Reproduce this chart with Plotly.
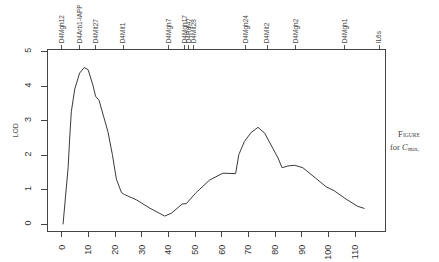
import plotly.graph_objects as go

# LOD profile (position in cM, LOD score)
pos_cm = [0.5, 1.5, 2.4, 3.0, 3.6, 4.9, 6.7, 8.4, 9.9, 11.7, 12.7, 14.0, 15.5, 17.3,
          19.0, 20.5, 22.4, 23.6, 28.0, 33.0, 38.6, 41.1, 45.2, 46.7, 50.4, 55.4,
          60.4, 65.2, 66.4, 68.5, 71.0, 73.6, 76.1, 79.2, 81.1, 82.6, 84.8, 87.3,
          90.4, 94.2, 99.1, 102.2, 106.6, 111.0, 113.5]
lod = [0.0, 0.9, 1.64, 2.5, 3.26, 3.92, 4.38, 4.54, 4.48, 4.03, 3.71, 3.59, 3.21, 2.69,
       2.02, 1.31, 0.92, 0.86, 0.71, 0.47, 0.24, 0.32, 0.59, 0.60, 0.92, 1.28,
       1.48, 1.47, 2.02, 2.40, 2.66, 2.81, 2.64, 2.21, 1.92, 1.64, 1.69, 1.71,
       1.64, 1.40, 1.09, 0.97, 0.73, 0.52, 0.46]

# marker map along the top
marker_names = ["D4Mgh12", "D4Arb1-IAPP", "D4Mit27", "D4Mit1", "D4Mgh7", "D4Mgh17",
                "D4Rul47", "D4Mit28", "D4Mgh24", "D4Mit2", "D4Mgh2", "D4Mgh1", "IL6s"]
marker_pos = [0.0, 6.7, 12.7, 23.0, 40.0, 46.0, 47.6, 49.4, 69.0, 77.0, 87.7, 106.0, 119.0]

x_ticks = list(range(0, 111, 10))
y_ticks = [0, 1, 2, 3, 4, 5]

W, H = 439, 262
L, R, T, B = 48, 385, 48, 231
x_rng = [-5.14, 121.2]
y_rng = [-0.2, 5.06]

fig = go.Figure()
fig.add_trace(go.Scatter(x=pos_cm, y=lod, mode="lines",
                         line=dict(color="#3a3a3a", width=1), showlegend=False,
                         hoverinfo="skip"))
# invisible trace to activate top axis
fig.add_trace(go.Scatter(x=[marker_pos[0]], y=[0], xaxis="x2", mode="markers",
                         marker=dict(opacity=0), showlegend=False, hoverinfo="skip"))

axis_font = dict(family="Liberation Sans, Arial, sans-serif", size=9, color="#333")
serif = "Liberation Serif, Times New Roman, serif"


def note(text, x, y, anchor, size, italic=False):
    return dict(text=text, x=x / W, y=1 - y / H, xref="paper", yref="paper",
                xanchor=anchor, yanchor="middle", showarrow=False,
                borderpad=0, borderwidth=0,
                font=dict(family=serif, size=size, color="#444"))


fig.update_layout(
    width=W, height=H,
    margin=dict(l=0, r=0, t=0, b=0),
    paper_bgcolor="white", plot_bgcolor="white",
    xaxis=dict(domain=[L / W, R / W], range=x_rng, tickvals=x_ticks,
               ticktext=[str(v) for v in x_ticks], tickangle=-90,
               ticks="outside", ticklen=5, tickcolor="#444", tickwidth=1,
               showline=True, linecolor="#444", linewidth=1, mirror=False,
               showgrid=False, zeroline=False, tickfont=axis_font, ticklabelstandoff=4),
    xaxis2=dict(overlaying="x", side="top", anchor="y", range=x_rng,
                tickvals=marker_pos, ticktext=marker_names, tickangle=-90,
                ticks="outside", ticklen=4, tickcolor="#555", tickwidth=1,
                showline=True, linecolor="#444", linewidth=1,
                showgrid=False, zeroline=False,
                tickfont=dict(family="Liberation Sans Narrow, Liberation Sans, Arial", size=6.5, color="#444")),
    yaxis=dict(domain=[1 - B / H, 1 - T / H], range=y_rng, tickvals=y_ticks,
               ticktext=[str(v) for v in y_ticks], tickangle=-90,
               ticks="outside", ticklen=6, tickcolor="#444", tickwidth=1,
               showline=True, linecolor="#444", linewidth=1, mirror=True,
               showgrid=False, zeroline=False, tickfont=axis_font, ticklabelstandoff=6),
    annotations=[
        dict(text="LOD", x=10 / W, y=1 - 130 / H, xref="paper", yref="paper",
             textangle=-90, showarrow=False,
             font=dict(family="Liberation Sans, Arial", size=7, color="#555")),
        note("F", 403, 133, "right", 8.5),
        note("IGURE", 403, 133.7, "left", 5.5),
        note("for <i>C</i>", 408, 146, "right", 8.5),
        note("max,", 408, 148, "left", 5.5),
    ],
)

fig.write_html("out.html")
